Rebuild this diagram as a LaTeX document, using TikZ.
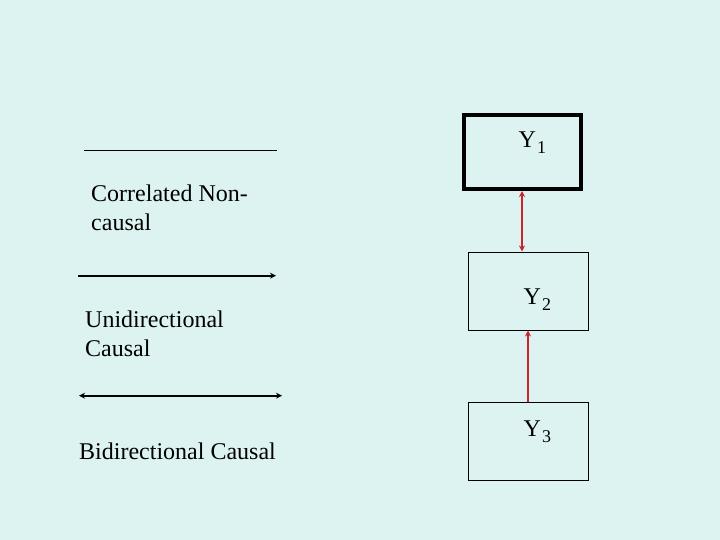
\documentclass[tikz,border=0pt]{standalone}
\usepackage{fontspec}
\setmainfont{Liberation Serif}
\usetikzlibrary{arrows.meta}
\definecolor{bg}{RGB}{221,243,241}
\definecolor{arrred}{RGB}{205,35,40}
\begin{document}
\begin{tikzpicture}[x=1pt,y=-1pt,
  >={Stealth[length=6pt,width=6pt]},
  lbl/.style={anchor=north west,inner sep=0pt,align=left,font=\fontsize{24}{28.5}\selectfont},
  ylbl/.style={anchor=base west,inner sep=0pt,font=\fontsize{24}{28}\selectfont},
  ybox/.style={draw=black,minimum width=120pt,minimum height=78pt,inner sep=0pt,line width=1pt},
  redarr/.style={draw=arrred,line width=1.8pt},
  blk/.style={draw=black,line width=1.8pt}]
\fill[bg] (0,0) rectangle (720,540);
\useasboundingbox (0,0) rectangle (720,540);
% boxes
\node[ybox,line width=4pt,minimum width=117pt,minimum height=74pt] (Y1) at (522,152) {};
\node[ybox] (Y2) at (528,291) {};
\node[ybox] (Y3) at (528,441) {};
\newcommand{\ysub}[1]{Y\kern1pt\raisebox{-0.25em}{\fontsize{18}{18}\selectfont #1}}
\node[ylbl] (t1) at (518.5,148) {\ysub{1}};
\node[ylbl] (t2) at (523.5,304) {\ysub{2}};
\node[ylbl] (t3) at (523.5,436) {\ysub{3}};
% red arrows
\draw[redarr,<->] (Y1.south) -- (Y1.south |- Y2.north);
\draw[redarr,->] (Y3.north) -- (Y2.south);
% legend
\coordinate (a1) at (84,150); \coordinate (b1) at (277,150);
\coordinate (a2) at (78,275.7); \coordinate (b2) at (276,275.7);
\coordinate (a3) at (79,395.7); \coordinate (b3) at (282,395.7);
\draw[black,line width=0.9pt] (a1) -- (b1);
\draw[blk,->] (a2) -- (b2);
\draw[blk,<->] (a3) -- (b3);
\node[lbl] (l1) at (91,185) {Correlated Non-\\causal};
\node[lbl] (l2) at (85,311) {Unidirectional\\Causal};
\node[lbl] (l3) at (79,443) {Bidirectional Causal};
\end{tikzpicture}
\end{document}
